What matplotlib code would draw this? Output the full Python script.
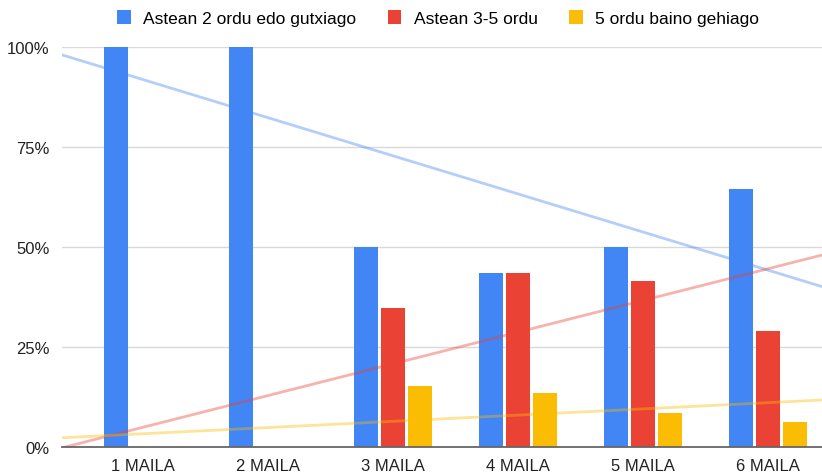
"""
Grouped bar chart: weekly hours per level (MAILA), with linear trendlines.
"""

import matplotlib.pyplot as plt
import numpy as np

BLUE = '#4285F4'
RED = '#EA4335'
YELL = '#FBBC04'

# Data -------------------------------------------------------------------------

categories = ['1 MAILA', '2 MAILA', '3 MAILA', '4 MAILA', '5 MAILA', '6 MAILA']
leg1 = 'Astean 2 ordu edo gutxiago'
leg2 = 'Astean 3-5 ordu'
leg3 = '5 ordu baino gehiago'

blue_vals = [100, 100, 50, 43.5, 50, 64.6]
red_vals = [0, 0, 34.8, 43.5, 41.4, 28.9]
yell_vals = [0, 0, 15.2, 13.4, 8.4, 6.2]

yticks = [0, 25, 50, 75, 100]
ytick_labels = ['0%', '25%', '50%', '75%', '100%']

# Figure -----------------------------------------------------------------------

plt.rcParams['font.family'] = ['Liberation Sans', 'DejaVu Sans']

fig = plt.figure(figsize=(8.22, 4.77), dpi=100)
ax = fig.add_axes([62 / 822, 1 - 448 / 477, 1 - 62 / 822, 400 / 477])

x = np.arange(len(categories))
bw = 0.19
off = 0.216
xlim = (-0.65, 5.43)

series = [(blue_vals, BLUE, leg1, -off),
          (red_vals, RED, leg2, 0.0),
          (yell_vals, YELL, leg3, off)]

handles = []
for vals, cl, lab, dx in series:
	b = ax.bar(x + dx, vals, width=bw, color=cl, label=lab, zorder=2, clip_on=False)
	handles.append(b)

# trendlines (linear fit on the series)
xs = np.array(xlim)
for vals, cl, lab, dx in series:
	k, c = np.polyfit(x, vals, 1)
	ax.plot(xs, k * xs + c, color=cl, alpha=0.4, lw=2, zorder=3)

ax.set_xlim(*xlim)
ax.set_ylim(0, 100)
ax.set_xticks(x)
ax.set_xticklabels(categories, fontsize=12, color='#222222')
ax.set_yticks(yticks)
ax.set_yticklabels(ytick_labels, fontsize=12, color='#222222')
ax.tick_params(length=0, pad=8)
ax.tick_params(axis='y', pad=9)
ax.grid(axis='y', color='#d9d9d9', lw=1, zorder=0)
for s in ['top', 'right', 'left']:
	ax.spines[s].set_visible(False)
ax.spines['bottom'].set_color('#666666')
ax.spines['bottom'].set_linewidth(1.3)
ax.spines['bottom'].set_zorder(4)

fig.legend(handles, [leg1, leg2, leg3], loc='center', bbox_to_anchor=(438 / 822, 1 - 19 / 477),
           ncol=3, frameon=False, fontsize=12.5, handlelength=0.8, handleheight=0.9,
           handletextpad=0.7, columnspacing=1.8)

fig.savefig('out.png', dpi=100)
